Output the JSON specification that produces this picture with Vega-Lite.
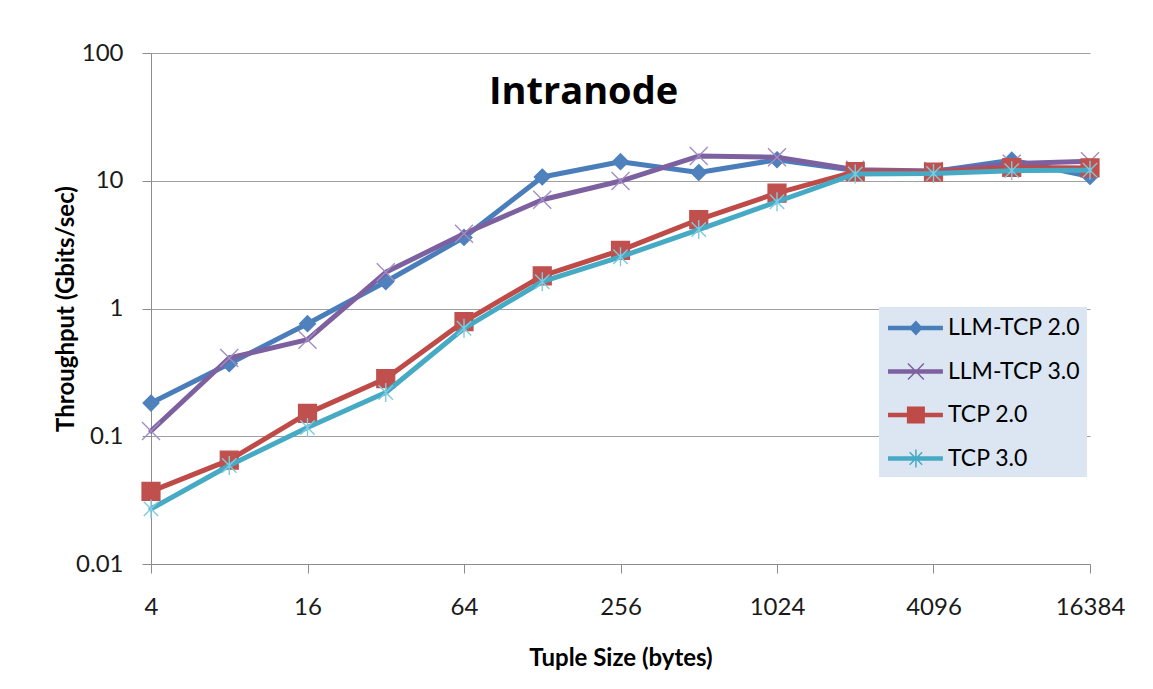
{
  "$schema": "https://vega.github.io/schema/vega-lite/v6.json",
  "width": 939,
  "height": 511,
  "autosize": {"type": "none"},
  "padding": {"left": 151, "top": 53, "right": 63, "bottom": 125},
  "background": "white",
  "title": {"text": "Intranode", "anchor": "middle", "frame": "group", "dx": -37, "offset": -71, "fontSize": 38, "font": "Open Sans", "fontWeight": "bold", "color": "#000000"},
  "config": {
    "view": {"stroke": null},
    "font": "Lato",
    "axis": {"labelFont": "Lato", "labelFontSize": 24, "labelColor": "#1a1a1a", "titleFont": "Lato", "titleFontSize": 24, "titleFontWeight": "bold", "titleColor": "#000000", "domainColor": "#8c8c8c", "tickColor": "#8c8c8c", "gridColor": "#a0a0a0", "tickSize": 9}
  },
  "datasets": {"tp": [
    {"size": 4, "series": "LLM-TCP 2.0", "value": 0.182},
    {"size": 8, "series": "LLM-TCP 2.0", "value": 0.37},
    {"size": 16, "series": "LLM-TCP 2.0", "value": 0.76},
    {"size": 32, "series": "LLM-TCP 2.0", "value": 1.62},
    {"size": 64, "series": "LLM-TCP 2.0", "value": 3.6},
    {"size": 128, "series": "LLM-TCP 2.0", "value": 10.7},
    {"size": 256, "series": "LLM-TCP 2.0", "value": 14.1},
    {"size": 512, "series": "LLM-TCP 2.0", "value": 11.6},
    {"size": 1024, "series": "LLM-TCP 2.0", "value": 14.6},
    {"size": 2048, "series": "LLM-TCP 2.0", "value": 12.0},
    {"size": 4096, "series": "LLM-TCP 2.0", "value": 11.8},
    {"size": 8192, "series": "LLM-TCP 2.0", "value": 14.5},
    {"size": 16384, "series": "LLM-TCP 2.0", "value": 10.8},
    {"size": 4, "series": "LLM-TCP 3.0", "value": 0.11},
    {"size": 8, "series": "LLM-TCP 3.0", "value": 0.41},
    {"size": 16, "series": "LLM-TCP 3.0", "value": 0.57},
    {"size": 32, "series": "LLM-TCP 3.0", "value": 1.92},
    {"size": 64, "series": "LLM-TCP 3.0", "value": 3.85},
    {"size": 128, "series": "LLM-TCP 3.0", "value": 7.1},
    {"size": 256, "series": "LLM-TCP 3.0", "value": 9.95},
    {"size": 512, "series": "LLM-TCP 3.0", "value": 15.6},
    {"size": 1024, "series": "LLM-TCP 3.0", "value": 15.3},
    {"size": 2048, "series": "LLM-TCP 3.0", "value": 12.2},
    {"size": 4096, "series": "LLM-TCP 3.0", "value": 11.9},
    {"size": 8192, "series": "LLM-TCP 3.0", "value": 13.6},
    {"size": 16384, "series": "LLM-TCP 3.0", "value": 14.2},
    {"size": 4, "series": "TCP 2.0", "value": 0.037},
    {"size": 8, "series": "TCP 2.0", "value": 0.065},
    {"size": 16, "series": "TCP 2.0", "value": 0.151},
    {"size": 32, "series": "TCP 2.0", "value": 0.283},
    {"size": 64, "series": "TCP 2.0", "value": 0.79},
    {"size": 128, "series": "TCP 2.0", "value": 1.8},
    {"size": 256, "series": "TCP 2.0", "value": 2.85},
    {"size": 512, "series": "TCP 2.0", "value": 4.97},
    {"size": 1024, "series": "TCP 2.0", "value": 8.0},
    {"size": 2048, "series": "TCP 2.0", "value": 11.8},
    {"size": 4096, "series": "TCP 2.0", "value": 11.7},
    {"size": 8192, "series": "TCP 2.0", "value": 12.7},
    {"size": 16384, "series": "TCP 2.0", "value": 12.6},
    {"size": 4, "series": "TCP 3.0", "value": 0.027},
    {"size": 8, "series": "TCP 3.0", "value": 0.059},
    {"size": 16, "series": "TCP 3.0", "value": 0.117},
    {"size": 32, "series": "TCP 3.0", "value": 0.22},
    {"size": 64, "series": "TCP 3.0", "value": 0.7},
    {"size": 128, "series": "TCP 3.0", "value": 1.62},
    {"size": 256, "series": "TCP 3.0", "value": 2.54},
    {"size": 512, "series": "TCP 3.0", "value": 4.15},
    {"size": 1024, "series": "TCP 3.0", "value": 6.85},
    {"size": 2048, "series": "TCP 3.0", "value": 11.3},
    {"size": 4096, "series": "TCP 3.0", "value": 11.4},
    {"size": 8192, "series": "TCP 3.0", "value": 12.0},
    {"size": 16384, "series": "TCP 3.0", "value": 12.1}
  ]},
  "data": {"name": "tp"},
  "encoding": {
    "x": {"field": "size", "type": "quantitative",
      "scale": {"type": "log", "base": 2, "domain": [4, 16384], "nice": false},
      "axis": {"values": [4, 16, 64, 256, 1024, 4096, 16384], "format": "d", "labelFlush": false, "labelOverlap": false, "grid": false, "labelPadding": 22, "title": "Tuple Size (bytes)", "titlePadding": 27}},
    "y": {"field": "value", "type": "quantitative",
      "scale": {"type": "log", "domain": [0.01, 100], "nice": false},
      "axis": {"values": [0.01, 0.1, 1, 10, 100], "format": "~g", "grid": true, "labelPadding": 19, "title": "Throughput (Gbits/sec)", "titlePadding": -3}}
  },
  "layer": [
    {
      "transform": [{"filter": "datum.series === 'LLM-TCP 2.0'"}],
      "mark": {"type": "line", "strokeWidth": 5, "strokeJoin": "round", "strokeCap": "round", "color": "#4a7ebb"},
      "encoding": {
        "color": {"field": "series", "type": "nominal",
          "scale": {"domain": ["LLM-TCP 2.0", "LLM-TCP 3.0", "TCP 2.0", "TCP 3.0"], "range": ["#4a7ebb", "#7d60a0", "#be4b48", "#46aac5"]},
          "legend": {
            "orient": "none", "legendX": 728, "legendY": 254, "title": null,
            "fillColor": "#dce6f2", "padding": 6, "rowPadding": 16.5,
            "symbolSize": 900, "symbolStrokeWidth": 0,
            "labelFont": "Lato", "labelFontSize": 23, "labelColor": "#000000", "labelOffset": 33, "labelLimit": 300,
            "encode": {"symbols": {"update": {
              "shape": {"signal": "datum.value === 'LLM-TCP 2.0' ? 'M-0.8,-0.15H2.86V0.15H-0.8Z M1.06,-0.5L1.53,0L1.06,0.5L0.59,0Z' : datum.value === 'LLM-TCP 3.0' ? 'M-0.8,-0.15H2.86V0.15H-0.8Z M0.565,-0.565L1.625,0.495L1.555,0.565L0.495,-0.495Z M0.495,0.495L1.555,-0.565L1.625,-0.495L0.565,0.565Z' : datum.value === 'TCP 2.0' ? 'M-0.8,-0.15H2.86V0.15H-0.8Z M0.46,-0.57H1.66V0.57H0.46Z' : 'M-0.8,-0.15H2.86V0.15H-0.8Z M1.01,-0.6H1.11V0.6H1.01Z M0.675,-0.455L1.515,0.385L1.445,0.455L0.605,-0.385Z M0.605,0.385L1.445,-0.455L1.515,-0.385L0.675,0.455Z'"},
              "fill": {"scale": "color", "field": "value"},
              "strokeWidth": {"value": 0},
              "opacity": {"value": 1}
            }}}
          }}
      }
    },
    {
      "transform": [{"filter": "datum.series === 'LLM-TCP 2.0'"}],
      "mark": {"type": "point", "shape": "M0,-0.89L0.89,0L0,0.89L-0.89,0Z", "size": 324, "filled": true, "fill": "#4f81bd", "stroke": "#4f81bd", "strokeWidth": 1.2, "opacity": 1}
    },
    {
      "transform": [{"filter": "datum.series === 'LLM-TCP 3.0'"}],
      "mark": {"type": "line", "strokeWidth": 5, "strokeJoin": "round", "strokeCap": "round", "color": "#7d60a0"}
    },
    {
      "transform": [{"filter": "datum.series === 'LLM-TCP 3.0'"}],
      "mark": {"type": "point", "shape": "M-1,-1L1,1M-1,1L1,-1", "size": 324, "filled": false, "stroke": "#a08dc4", "strokeWidth": 1.4, "opacity": 1}
    },
    {
      "transform": [{"filter": "datum.series === 'TCP 2.0'"}],
      "mark": {"type": "line", "strokeWidth": 5, "strokeJoin": "round", "strokeCap": "round", "color": "#be4b48"}
    },
    {
      "transform": [{"filter": "datum.series === 'TCP 2.0'"}],
      "mark": {"type": "point", "shape": "M-1,-1H1V1H-1Z", "size": 324, "filled": true, "fill": "#c0504d", "stroke": "#c0504d", "strokeWidth": 1.2, "opacity": 1}
    },
    {
      "transform": [{"filter": "datum.series === 'TCP 3.0'"}],
      "mark": {"type": "line", "strokeWidth": 5, "strokeJoin": "round", "strokeCap": "round", "color": "#46aac5"}
    },
    {
      "transform": [{"filter": "datum.series === 'TCP 3.0'"}],
      "mark": {"type": "point", "shape": "M0,-1.05V1.05M-0.8,-0.8L0.8,0.8M-0.8,0.8L0.8,-0.8", "size": 324, "filled": false, "stroke": "#7ecbe0", "strokeWidth": 1.4, "opacity": 1}
    }
  ]
}
